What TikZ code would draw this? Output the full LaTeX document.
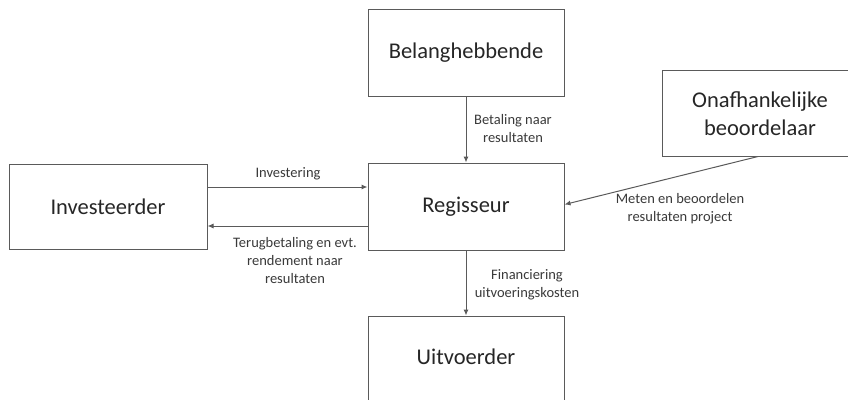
\documentclass[tikz,border=0pt]{standalone}
\usepackage{fontspec}
\setmainfont{Carlito}
\usetikzlibrary{arrows.meta}
\definecolor{linec}{HTML}{5A5A5A}
\definecolor{textc}{HTML}{262626}
\definecolor{labc}{HTML}{3A3A3A}
\begin{document}
\begin{tikzpicture}[x=1pt,y=-1pt,
  box/.style={draw=linec,line width=1pt,fill=white,minimum width=196pt,minimum height=87pt,
    inner sep=0pt,text=textc,align=center,font=\fontsize{22.5}{28}\selectfont},
  lab/.style={text=labc,align=center,inner sep=0pt,font=\fontsize{14.5}{18}\selectfont},
  conn/.style={draw=linec,line width=1pt,-{Latex[length=6pt,width=5pt]}}]
\useasboundingbox (0,0) rectangle (848,399);
\clip (0,0) rectangle (848,399);
\fill[white] (0,0) rectangle (848,399);
\node[box] (bel) at (466,52.5) {Belanghebbende};
\node[box] (reg) at (466,206.5) {Regisseur};
\node[box] (uit) at (466,359.5) {};
\node[text=textc,font=\fontsize{22.5}{28}\selectfont,inner sep=0pt] (uitt) at (466,357) {Uitvoerder};
\node[box,minimum width=198pt,minimum height=85pt] (inv) at (108,206.5) {Investeerder};
\node[box,minimum height=86pt] (ona) at (760,113) {};
\node[text=textc,align=center,inner sep=0pt,font=\fontsize{22.5}{28}\selectfont] (onat) at (760,114) {Onafhankelijke\\beoordelaar};
\draw[conn] (bel.south) -- (reg.north);
\draw[conn] (reg.south) -- (uit.north);
\draw[conn] ([yshift=19.5pt]inv.east) -- ([yshift=19.5pt]reg.west);
\draw[conn] ([yshift=-19.5pt]reg.west) -- ([yshift=-19.5pt]inv.east);
\draw[conn] ([xshift=-2pt]ona.south) -- ([yshift=2pt]reg.east);
\node[lab] (l1) at (288,174) {Investering};
\node[lab] (l2) at (295,261) {Terugbetaling en evt.\\rendement naar\\resultaten};
\node[lab] (l3) at (513,129) {Betaling naar\\resultaten};
\node[lab] (l4) at (680,208.5) {Meten en beoordelen\\resultaten project};
\node[lab] (l5) at (527,284.5) {Financiering\\uitvoeringskosten};
\end{tikzpicture}
\end{document}
